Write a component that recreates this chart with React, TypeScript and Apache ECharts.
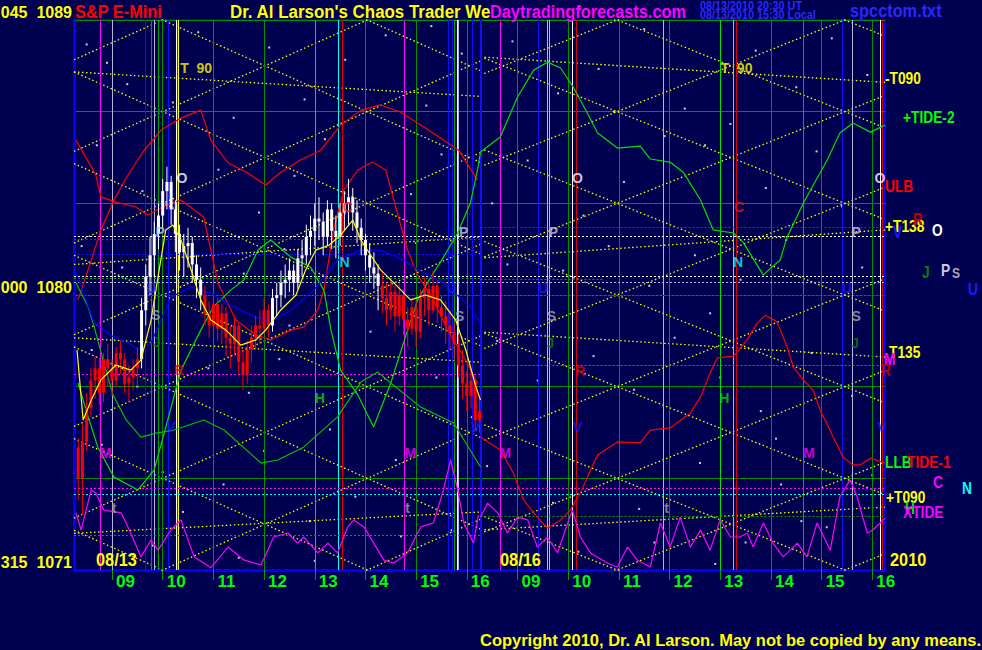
import React, { useEffect, useRef } from 'react';
import * as echarts from 'echarts';

// x unit: hours after 09:00 of 08/13 (second session shifted by 8 hours, sessions 08:15-16:15)
const X_MIN = -0.75;
const X_MAX = 15.25;
const HOUR_TICKS = [0, 1, 2, 3, 4, 5, 6, 7, 8, 9, 10, 11, 12, 13, 14, 15];
const HOUR_LABELS = ['09', '10', '11', '12', '13', '14', '15', '16', '09', '10', '11', '12', '13', '14', '15', '16'];
const Y_LABELS: Record<number, string> = { 1071: '315  1071', 1080: '000  1080', 1089: '045  1089' };

// 5-minute bars of 08/13, from 08:20: [open, close, low, high, colour flag]
const BAR_START = -0.667;
const candles: [number, number, number, number, string][] = [
  [1075.0, 1074.0, 1073.3, 1075.3, 'r'], [1074.0, 1075.2, 1072.8, 1075.8, 'r'], [1075.2, 1076.3, 1074.9, 1076.8, 'r'],
  [1076.3, 1077.2, 1076.0, 1077.6, 'r'], [1077.2, 1077.6, 1076.6, 1078.0, 'r'], [1077.6, 1076.8, 1076.4, 1077.9, 'r'],
  [1076.8, 1077.9, 1076.5, 1078.1, 'r'], [1077.9, 1077.6, 1077.0, 1078.4, 'r'], [1077.6, 1077.2, 1076.7, 1077.9, 'r'],
  [1077.2, 1078.1, 1077.0, 1078.3, 'r'], [1078.1, 1077.9, 1077.4, 1078.5, 'r'], [1077.9, 1077.1, 1076.8, 1078.1, 'r'],
  [1077.1, 1077.3, 1076.5, 1077.7, 'r'], [1077.3, 1077.6, 1076.9, 1077.9, 'r'], [1077.6, 1077.9, 1077.0, 1078.3, 'r'],
  [1077.9, 1079.5, 1077.6, 1079.9, 'w'], [1079.5, 1080.6, 1079.0, 1081.0, 'w'], [1080.6, 1081.3, 1080.0, 1081.9, 'w'],
  [1081.3, 1082.0, 1080.6, 1082.4, 'w'], [1082.0, 1082.6, 1081.5, 1083.0, 'w'], [1082.6, 1083.4, 1082.2, 1083.8, 'w'],
  [1083.4, 1083.7, 1082.8, 1084.2, 'w'], [1083.7, 1082.8, 1082.3, 1083.9, 'w'], [1082.8, 1082.0, 1081.4, 1083.1, 'w'],
  [1082.0, 1081.4, 1080.8, 1082.3, 'w'], [1081.4, 1081.6, 1080.6, 1082.0, 'w'], [1081.6, 1081.7, 1080.9, 1082.2, 'w'],
  [1081.7, 1081.0, 1080.4, 1081.9, 'w'], [1081.0, 1080.5, 1079.9, 1081.3, 'w'], [1080.5, 1080.0, 1079.5, 1080.9, 'w'],
  [1080.0, 1079.4, 1079.0, 1080.3, 'r'], [1079.4, 1079.0, 1078.6, 1079.8, 'r'], [1079.0, 1079.7, 1078.7, 1080.0, 'r'],
  [1079.7, 1078.9, 1078.5, 1079.9, 'r'], [1078.9, 1079.4, 1078.4, 1079.7, 'r'], [1079.4, 1078.6, 1078.0, 1079.6, 'r'],
  [1078.6, 1078.4, 1077.6, 1079.0, 'r'], [1078.4, 1079.0, 1078.0, 1079.3, 'r'], [1079.0, 1077.8, 1077.4, 1079.1, 'r'],
  [1077.8, 1077.4, 1076.9, 1078.2, 'r'], [1077.4, 1078.2, 1077.1, 1078.5, 'r'], [1078.2, 1078.6, 1077.8, 1079.0, 'r'],
  [1078.6, 1079.0, 1078.2, 1079.3, 'r'], [1079.0, 1078.9, 1078.4, 1079.5, 'r'], [1078.9, 1079.5, 1078.7, 1079.9, 'r'],
  [1079.5, 1079.0, 1078.6, 1079.7, 'r'], [1079.0, 1079.9, 1078.8, 1080.2, 'w'], [1079.9, 1080.0, 1079.3, 1080.4, 'w'],
  [1080.0, 1080.4, 1079.6, 1080.8, 'w'], [1080.4, 1080.5, 1079.9, 1081.0, 'w'], [1080.5, 1080.8, 1080.1, 1081.2, 'w'],
  [1080.8, 1080.4, 1080.0, 1081.0, 'w'], [1080.4, 1081.2, 1080.2, 1081.5, 'w'], [1081.2, 1081.3, 1080.6, 1081.8, 'w'],
  [1081.3, 1081.9, 1081.0, 1082.3, 'w'], [1081.9, 1082.1, 1081.3, 1082.6, 'w'], [1082.1, 1082.5, 1081.6, 1083.0, 'w'],
  [1082.5, 1082.4, 1081.8, 1083.2, 'w'], [1082.4, 1081.9, 1081.3, 1082.7, 'w'], [1081.9, 1082.8, 1081.6, 1083.1, 'w'],
  [1082.8, 1082.1, 1081.5, 1083.0, 'w'], [1082.1, 1081.9, 1081.2, 1082.6, 'w'], [1081.9, 1082.7, 1081.6, 1083.0, 'w'],
  [1082.7, 1083.0, 1082.1, 1083.4, 'w'], [1083.0, 1083.2, 1082.3, 1083.8, 'w'], [1083.2, 1082.7, 1082.1, 1083.5, 'w'],
  [1082.7, 1082.2, 1081.7, 1083.1, 'w'], [1082.2, 1081.8, 1081.3, 1082.5, 'w'], [1081.8, 1081.3, 1080.8, 1082.0, 'w'],
  [1081.3, 1080.9, 1080.4, 1081.7, 'w'], [1080.9, 1080.7, 1080.2, 1081.4, 'w'], [1080.7, 1080.3, 1079.5, 1081.0, 'w'],
  [1080.3, 1079.9, 1079.4, 1080.8, 'r'], [1079.9, 1079.5, 1079.0, 1080.4, 'r'], [1079.5, 1080.1, 1079.2, 1080.5, 'r'],
  [1080.1, 1079.3, 1078.8, 1080.3, 'r'], [1079.3, 1080.0, 1079.0, 1080.4, 'r'], [1080.0, 1079.2, 1078.7, 1080.2, 'r'],
  [1079.2, 1078.9, 1078.3, 1079.6, 'r'], [1078.9, 1079.6, 1078.7, 1079.9, 'r'], [1079.6, 1078.8, 1078.3, 1079.8, 'r'],
  [1078.8, 1079.9, 1078.6, 1080.2, 'r'], [1079.9, 1080.2, 1079.3, 1080.6, 'r'], [1080.2, 1079.5, 1079.0, 1080.4, 'r'],
  [1079.5, 1080.3, 1079.4, 1080.8, 'r'], [1080.3, 1079.6, 1079.1, 1080.5, 'r'], [1079.6, 1079.3, 1078.8, 1080.0, 'r'],
  [1079.3, 1079.0, 1078.4, 1079.8, 'r'], [1079.0, 1078.8, 1078.2, 1079.5, 'r'], [1078.8, 1078.4, 1077.9, 1079.1, 'r'],
  [1078.4, 1077.7, 1077.3, 1078.7, 'r'], [1077.7, 1077.1, 1076.6, 1078.2, 'r'], [1077.1, 1076.7, 1076.2, 1077.5, 'r'],
  [1076.7, 1077.2, 1076.3, 1077.6, 'r'], [1077.2, 1075.9, 1075.6, 1076.8, 'r'], [1075.9, 1076.2, 1075.5, 1076.6, 'r'],
];

// smoothed price (yellow), 08/13
const priceAvg: [number, number][] = [
  [-0.69, 1078.2], [-0.57, 1075.91], [-0.41, 1076.56], [-0.22, 1077.22], [0.08, 1077.71], [0.37, 1077.54],
  [0.57, 1077.87], [0.77, 1079.18], [0.93, 1080.82], [1.06, 1082.13], [1.2, 1082.29], [1.36, 1081.8],
  [1.56, 1080.82], [1.75, 1079.84], [1.95, 1079.18], [2.25, 1078.85], [2.54, 1078.36], [2.84, 1078.53],
  [3.03, 1078.85], [3.33, 1079.51], [3.63, 1080.0], [3.82, 1080.82], [4.02, 1081.47], [4.28, 1081.63],
  [4.51, 1081.96], [4.75, 1082.45], [4.91, 1081.8], [5.1, 1081.31], [5.3, 1080.82], [5.6, 1080.33],
  [5.89, 1079.84], [6.18, 1080.0], [6.48, 1079.84], [6.78, 1079.18], [6.98, 1078.2], [7.17, 1077.05], [7.27, 1076.56],
];

// upper band (red) 08/13
const ulb: [number, number][] = [
  [-0.67, 1079.84], [-0.41, 1081.14], [-0.22, 1082.13], [0.04, 1083.11], [0.28, 1083.83], [0.61, 1084.68],
  [0.97, 1085.4], [1.36, 1085.79], [1.75, 1086.05], [1.95, 1085.07], [2.29, 1084.32], [2.68, 1083.99],
  [3.03, 1083.6], [3.33, 1084.02], [3.72, 1084.42], [4.12, 1084.74], [4.51, 1085.56], [4.91, 1086.05],
  [5.3, 1086.22], [5.69, 1085.99], [6.09, 1085.56], [6.48, 1085.14], [6.84, 1084.74], [7.21, 1083.76],
];
// lower band (green) 08/13
const llb: [number, number][] = [
  [-0.71, 1080.39], [-0.47, 1079.61], [-0.35, 1078.95], [-0.16, 1077.77], [0.02, 1076.73], [0.28, 1075.91],
  [0.57, 1075.35], [0.87, 1075.48], [1.22, 1075.58], [1.81, 1075.91], [2.21, 1075.58], [2.94, 1074.5],
  [3.27, 1074.6], [3.78, 1075.02], [4.45, 1076.01], [4.91, 1077.15], [5.24, 1077.48], [5.5, 1077.12],
  [6.09, 1076.33], [6.74, 1075.81], [7.27, 1074.37],
];
// blue average 08/13
const blueLine: [number, number][] = [
  [-0.71, 1080.75], [-0.35, 1079.08], [0.04, 1078.62], [0.32, 1078.43], [0.51, 1078.2], [0.77, 1078.43],
  [1.16, 1079.93], [1.56, 1080.26], [1.95, 1080.06], [2.34, 1079.67], [2.74, 1079.34], [3.13, 1079.12],
  [3.53, 1079.51], [3.98, 1080.16], [4.45, 1081.14], [4.91, 1081.47], [5.3, 1081.47], [5.75, 1081.14],
  [6.15, 1080.72], [6.54, 1080.39], [7.07, 1079.61], [7.27, 1079.08],
];
// TIDE-1 (red)
const tide1Day1: [number, number][] = [
  [-0.71, 1085.07], [-0.32, 1083.93], [-0.22, 1083.21], [0.08, 1083.04], [0.47, 1082.88], [0.71, 1082.62],
  [1.06, 1082.94], [1.36, 1083.11], [1.81, 1082.55], [2.09, 1080.39], [2.44, 1079.18], [2.84, 1078.69],
  [3.13, 1078.53], [3.53, 1078.85], [3.78, 1078.95], [4.06, 1079.51], [4.18, 1080.16], [4.37, 1082.13],
  [4.57, 1083.43], [4.85, 1084.09], [5.14, 1084.35], [5.4, 1084.09], [5.56, 1083.11], [5.83, 1081.47],
  [6.03, 1080.65], [6.34, 1079.84], [6.62, 1078.85], [6.94, 1077.97], [7.21, 1077.12],
];
const tide1Day2: [number, number][] = [
  [7.27, 1075.35], [7.66, 1074.93], [7.92, 1074.17], [8.12, 1073.29], [8.39, 1072.73], [8.59, 1072.37],
  [8.85, 1072.64], [9.04, 1072.96], [9.24, 1073.52], [9.44, 1074.27], [9.58, 1074.76], [9.97, 1075.19],
  [10.42, 1075.16], [10.62, 1075.58], [11.01, 1075.65], [11.41, 1076.14], [11.61, 1076.66], [11.8, 1077.45],
  [11.94, 1077.94], [12.26, 1078.0], [12.53, 1078.53], [12.73, 1079.08], [12.89, 1079.34], [13.12, 1079.12],
  [13.32, 1078.3], [13.44, 1077.64], [13.64, 1077.22], [13.83, 1076.89], [13.97, 1076.24], [14.23, 1075.35],
  [14.42, 1074.7], [14.62, 1074.44], [14.76, 1074.44], [14.96, 1074.66], [15.25, 1074.5],
];
// TIDE-2 (green)
const tide2: [number, number][] = [
  [-0.67, 1077.12], [-0.47, 1076.01], [-0.28, 1075.02], [0.04, 1074.04], [0.51, 1073.62], [0.83, 1074.27],
  [1.1, 1075.91], [1.36, 1077.54], [1.75, 1078.85], [2.0, 1079.61], [2.34, 1080.16], [2.6, 1080.49],
  [2.88, 1081.47], [3.13, 1081.8], [3.53, 1081.24], [3.92, 1080.91], [4.18, 1080.16], [4.32, 1078.85],
  [4.51, 1077.54], [4.85, 1076.73], [5.16, 1075.68], [5.5, 1077.12], [5.75, 1078.43], [6.03, 1079.84],
  [6.29, 1080.59], [6.54, 1081.24], [6.82, 1082.03], [7.07, 1083.01], [7.21, 1084.09], [7.27, 1084.68],
  [7.66, 1085.17], [8.0, 1086.48], [8.32, 1087.36], [8.59, 1087.62], [8.85, 1087.43], [9.1, 1086.8],
  [9.38, 1085.95], [9.58, 1085.3], [9.97, 1084.81], [10.42, 1084.87], [10.62, 1084.45], [11.01, 1084.35],
  [11.27, 1084.02], [11.61, 1083.11], [11.86, 1082.13], [12.26, 1082.03], [12.45, 1081.73], [12.85, 1080.65],
  [12.99, 1080.88], [13.18, 1081.14], [13.32, 1081.9], [13.64, 1083.01], [14.11, 1084.42], [14.36, 1085.3],
  [14.62, 1085.63], [14.96, 1085.33], [15.25, 1085.56],
];
// XTIDE (magenta)
const xtideDay1: [number, number][] = [
  [-0.71, 1072.87], [-0.61, 1072.31], [-0.41, 1073.62], [-0.32, 1073.52], [-0.16, 1072.96], [0.18, 1072.87],
  [0.37, 1072.21], [0.57, 1071.43], [0.77, 1071.98], [0.91, 1071.65], [1.16, 1072.31], [1.36, 1072.64],
  [1.62, 1071.43], [1.95, 1071.07], [2.29, 1071.75], [2.6, 1071.33], [2.94, 1071.16], [3.19, 1072.08],
  [3.47, 1072.21], [3.66, 1071.88], [3.78, 1072.08], [4.06, 1071.56], [4.26, 1071.88], [4.45, 1071.56],
  [4.65, 1072.41], [4.77, 1072.64], [4.97, 1072.41], [5.36, 1071.33], [5.56, 1071.23], [5.83, 1071.56],
  [6.09, 1072.41], [6.34, 1072.54], [6.54, 1073.62], [6.68, 1074.6], [6.82, 1073.62], [6.94, 1072.54],
  [7.13, 1071.88], [7.23, 1072.8],
];
const xtideDay2: [number, number][] = [
  [7.27, 1072.73], [7.41, 1073.19], [7.61, 1072.87], [7.8, 1072.21], [8.0, 1072.73], [8.2, 1072.64],
  [8.39, 1071.75], [8.59, 1072.08], [8.79, 1071.56], [8.99, 1072.54], [9.08, 1072.96], [9.24, 1072.08],
  [9.44, 1071.56], [9.77, 1071.23], [9.97, 1071.1], [10.17, 1071.75], [10.36, 1071.33], [10.62, 1071.1],
  [10.82, 1072.54], [11.01, 1071.75], [11.21, 1072.73], [11.41, 1071.75], [11.61, 1072.31], [11.8, 1071.65],
  [12.0, 1072.64], [12.2, 1072.08], [12.39, 1072.08], [12.53, 1072.21], [12.65, 1071.75], [12.85, 1072.54],
  [13.04, 1071.88], [13.24, 1071.43], [13.52, 1071.88], [13.71, 1071.43], [13.91, 1072.54], [14.17, 1071.65],
  [14.36, 1073.39], [14.56, 1073.95], [14.7, 1073.39], [14.9, 1072.21], [15.01, 1072.31], [15.25, 1072.7],
];

// yellow time-price lines: [x1, y1, x2, y2]
const latticeLines: [number, number, number, number][] = [
  [-0.75, 1093.3, 7.27, 1087.34], [-0.75, 1090.3, 7.27, 1084.34], [-0.75, 1087.3, 7.27, 1081.34],
  [-0.75, 1084.3, 7.27, 1078.34], [-0.75, 1081.3, 7.27, 1075.34], [-0.75, 1078.3, 7.27, 1072.34],
  [-0.75, 1075.3, 7.27, 1069.34], [-0.75, 1072.3, 7.27, 1066.34],
  [-0.75, 1066.7, 7.27, 1072.66], [-0.75, 1069.7, 7.27, 1075.66], [-0.75, 1072.7, 7.27, 1078.66],
  [-0.75, 1075.7, 7.27, 1081.66], [-0.75, 1078.7, 7.27, 1084.66], [-0.75, 1081.7, 7.27, 1087.66],
  [-0.75, 1084.7, 7.27, 1090.66], [-0.75, 1087.7, 7.27, 1093.66],
  [7.27, 1093.8, 15.25, 1088.47], [7.27, 1090.8, 15.25, 1085.47], [7.27, 1087.8, 15.25, 1082.47],
  [7.27, 1084.8, 15.25, 1079.47], [7.27, 1081.8, 15.25, 1076.47], [7.27, 1078.8, 15.25, 1073.47],
  [7.27, 1075.8, 15.25, 1070.47], [7.27, 1072.8, 15.25, 1067.47],
  [7.27, 1066.2, 15.25, 1071.53], [7.27, 1069.2, 15.25, 1074.53], [7.27, 1072.2, 15.25, 1077.53],
  [7.27, 1075.2, 15.25, 1080.53], [7.27, 1078.2, 15.25, 1083.53], [7.27, 1081.2, 15.25, 1086.53],
  [7.27, 1084.2, 15.25, 1089.53], [7.27, 1087.2, 15.25, 1092.53],
];
const tLines: [number, number, number, number][] = [
  [-0.75, 1087.3, 7.27, 1086.5], [-0.75, 1081.0, 7.27, 1081.9], [-0.75, 1078.6, 7.27, 1077.8], [-0.75, 1072.2, 7.27, 1072.9],
  [7.27, 1087.79, 15.25, 1086.96], [7.27, 1081.21, 15.25, 1082.13], [7.27, 1078.79, 15.25, 1077.97], [7.27, 1072.31, 15.25, 1073.06],
];

// planetary time lines: [x, kind]
const timeLines: [number, string][] = [
  [-0.24, 'magenta'], [0.0, 'lavender'], [0.65, 'blue'], [0.77, 'green'], [0.83, 'lavender'], [0.91, 'green'],
  [1.1, 'blue'], [1.26, 'white'], [1.28, 'red'], [1.31, 'yellow'], [4.47, 'cyan'], [4.55, 'red'], [5.77, 'magenta'],
  [6.64, 'blue'], [6.72, 'blue'], [6.76, 'green'], [6.82, 'white'], [6.84, 'lavender'], [7.11, 'blue'], [7.27, 'blue'],
  [7.65, 'magenta'], [8.41, 'blue'], [8.59, 'lavender'], [8.63, 'lavender'], [9.08, 'white'], [9.16, 'red'],
  [10.88, 'lavender'], [12.26, 'cyan'], [12.32, 'red'], [13.64, 'magenta'], [14.4, 'blue'], [14.6, 'lavender'],
  [15.15, 'white'], [15.19, 'red'],
];
// horizontal price levels: [x1, x2, price, kind]
const priceLevels: [number, number, number, string][] = [
  [-0.75, 7.27, 1081.83, 'red'], [7.27, 15.25, 1082.23, 'red'], [-0.75, 15.25, 1081.93, 'white'],
  [-0.75, 7.27, 1081.34, 'blue'], [-0.75, 15.25, 1080.62, 'white'], [-0.75, 15.25, 1080.43, 'lavender'],
  [-0.75, 7.27, 1080.56, 'green'], [7.27, 9.7, 1080.52, 'green'], [-0.75, 15.25, 1080.0, 'blue'],
  [-0.75, 7.27, 1077.41, 'magenta'], [7.27, 15.25, 1077.71, 'magenta'], [-0.75, 15.25, 1073.68, 'magenta'],
  [-0.75, 15.25, 1073.49, 'cyan'], [-0.75, 7.27, 1072.15, 'green'], [7.27, 15.25, 1072.77, 'green'],
];

// planet letters on the chart: [x, price, letter]
const letters: [number, number, string][] = [
  [1.66, 1087.43, 'T  90'], [1.38, 1083.83, 'O'], [0.95, 1082.06, 'P'], [0.86, 1079.34, 'S'], [0.88, 1078.46, 'J'],
  [1.32, 1077.54, 'R'], [-0.12, 1074.83, 'M'], [0.04, 1073.03, 't'], [1.16, 1075.68, 'V'], [0.77, 1080.23, 'U'],
  [4.65, 1082.88, 'C'], [4.59, 1081.08, 'N'], [4.1, 1076.63, 'H'], [5.89, 1074.83, 'M'], [5.83, 1073.03, 't'],
  [6.94, 1082.06, 'P'], [6.86, 1079.31, 'S'], [7.17, 1075.68, 'V'], [6.7, 1080.23, 'U'],
  [12.32, 1087.43, 'T  90'], [9.18, 1083.83, 'O'], [8.71, 1082.06, 'P'], [8.51, 1080.23, 'U'], [8.67, 1079.31, 'S'],
  [8.65, 1078.43, 'J'], [9.24, 1077.5, 'R'], [9.18, 1075.68, 'V'], [7.76, 1074.83, 'M'], [10.94, 1073.03, 't'],
  [12.37, 1082.88, 'C'], [12.35, 1081.08, 'N'], [12.08, 1076.63, 'H'], [13.75, 1074.83, 'M'], [14.5, 1080.23, 'U'],
  [14.68, 1079.31, 'S'], [14.66, 1078.43, 'J'], [14.68, 1082.06, 'P'], [15.15, 1083.83, 'O'], [15.19, 1075.68, 'V'],
];

// background star dots: [x, price]
const stars: [number, number][] = [
  [-0.5, 1088.2], [0.3, 1086.9], [1.7, 1088.6], [2.4, 1085.8], [3.1, 1088.1], [3.8, 1086.4], [4.6, 1087.7], [5.4, 1088.5],
  [6.2, 1086.2], [6.9, 1087.9], [7.9, 1088.3], [8.8, 1086.6], [9.6, 1087.4], [10.5, 1088.7], [11.3, 1086.1], [12.7, 1088.0],
  [13.5, 1086.8], [14.2, 1088.4], [14.9, 1087.2], [-0.3, 1084.9], [0.6, 1083.4], [2.1, 1084.1], [2.9, 1082.7], [3.6, 1083.9],
  [5.9, 1083.3], [6.5, 1084.6], [7.5, 1083.0], [8.2, 1084.4], [9.3, 1082.6], [10.1, 1083.7], [10.9, 1085.2], [11.7, 1084.9],
  [12.9, 1083.5], [13.9, 1084.7], [14.4, 1082.9], [-0.6, 1081.6], [0.2, 1080.9], [1.5, 1081.2], [2.6, 1080.7], [3.4, 1081.5],
  [5.2, 1080.6], [6.0, 1081.7], [7.8, 1081.0], [8.9, 1080.8], [9.8, 1081.6], [10.6, 1080.3], [11.5, 1081.3], [12.4, 1080.5],
  [13.3, 1081.8], [14.8, 1080.9], [-0.4, 1078.2], [0.5, 1077.0], [1.9, 1077.6], [2.7, 1076.8], [3.3, 1077.9], [4.3, 1075.6],
  [5.1, 1078.8], [6.4, 1077.3], [7.6, 1078.5], [8.4, 1077.2], [9.5, 1078.0], [10.3, 1076.9], [11.1, 1078.6], [12.0, 1077.3],
  [12.8, 1076.2], [13.8, 1078.1], [14.6, 1076.7], [-0.2, 1075.1], [1.0, 1074.2], [2.2, 1073.8], [3.0, 1074.9], [3.9, 1072.6],
  [4.8, 1073.4], [5.6, 1074.6], [6.7, 1072.3], [7.4, 1074.4], [8.7, 1073.2], [9.2, 1071.6], [10.4, 1073.0], [11.6, 1074.5],
  [12.5, 1071.9], [13.2, 1073.8], [14.1, 1072.4], [15.0, 1074.1], [0.8, 1071.8], [1.4, 1072.9], [2.5, 1071.4], [4.0, 1071.3],
  [5.7, 1072.1], [8.1, 1071.5], [10.7, 1071.9], [11.9, 1071.2], [13.6, 1072.6], [1.2, 1086.3], [4.2, 1085.1], [9.9, 1086.0],
  [12.2, 1085.6], [6.3, 1088.8], [-0.1, 1087.6], [3.5, 1079.0], [11.8, 1079.4], [7.1, 1076.0], [13.1, 1075.3],
];

const COLORS: Record<string, string> = {
  magenta: '#ff00ff', lavender: '#b4b4dc', blue: '#1010ff', green: '#00a000', white: '#ffffff',
  red: '#e00000', yellow: '#ffff00', cyan: '#00ffff',
};
const LETTER_COLORS: Record<string, string> = {
  'T  90': '#ffff00', O: '#ffffff', P: '#c8c8e0', S: '#a8a8b8', J: '#008800', R: '#e00000', M: '#ff00ff',
  t: '#a0a0b0', V: '#1a1aff', U: '#1a1aff', C: '#ff1010', N: '#00ffff', H: '#00e000',
};

const SANS = "'Liberation Sans', Arial, sans-serif";
const BG = '#000050';

function txt(x: number, y: number, text: string, fill: string, fontSize: number, sx = 0.86) {
  return {
    type: 'text', x, y, scaleX: sx, silent: true, z: 100,
    style: { text, fill, fontSize, fontFamily: SANS, fontWeight: 'bold', verticalAlign: 'middle' },
  };
}

function lineSeries(name: string, data: [number, number][], color: string, width = 1, z = 5) {
  return {
    name, type: 'line', data, symbol: 'none', smooth: false, z, clip: true, silent: true,
    lineStyle: { color, width }, emphasis: { disabled: true },
  };
}

export default function App() {
  const ref = useRef<HTMLDivElement>(null);
  useEffect(() => {
    document.body.style.margin = '0';
    document.body.style.background = BG;
    const chart = echarts.init(ref.current!, null, { renderer: 'svg' });

    const vMarks = [
      ...HOUR_TICKS.map((h) => ({
        xAxis: h,
        lineStyle: { color: h === 4 || h === 12 ? '#00e000' : '#009000', width: 1, type: 'solid' },
      })),
      ...timeLines.map(([x, k]) => ({
        xAxis: x,
        lineStyle: { color: COLORS[k], width: x === 7.27 ? 2 : 1, type: 'solid' },
      })),
    ];
    const hMarks = priceLevels.map(([x1, x2, p, k]) => [
      { coord: [x1, p], lineStyle: { color: COLORS[k], width: 1, type: [2, 2] } },
      { coord: [x2, p] },
    ]);

    const yellowSeries = [...latticeLines, ...tLines].map((l, i) =>
      ({
        name: 'yl' + i, type: 'line', data: [[l[0], l[1]], [l[2], l[3]]], symbol: 'none', z: 3, clip: true, silent: true,
        lineStyle: { color: '#ffff00', width: 1.3, type: [1.5, 2.5] },
      }));

    const candleData = candles.map((c, i) => ({
      value: [BAR_START + i / 12, c[0], c[1], c[2], c[3]],
      itemStyle: { color: c[4] === 'w' ? '#ffffff' : '#ff0000' },
    }));

    const option: any = {
      animation: false,
      backgroundColor: BG,
      grid: {
        left: 74, right: 97, top: 20, bottom: 80, show: true, borderColor: '#0000ff', borderWidth: 2,
        backgroundColor: 'transparent', containLabel: false, outerBoundsMode: 'none',
      },
      xAxis: {
        type: 'value', min: X_MIN, max: X_MAX,
        axisLine: { show: true, onZero: false, lineStyle: { color: '#0000ff', width: 3 } },
        axisTick: { show: true, customValues: HOUR_TICKS, length: 10, inside: false, lineStyle: { color: '#00a000', width: 1 } },
        axisLabel: {
          show: true, customValues: HOUR_TICKS, formatter: (v: number) => HOUR_LABELS[Math.round(v)] ?? '',
          color: '#00ff00', fontSize: 17, fontWeight: 'bold', fontFamily: SANS, align: 'left', padding: [0, 0, 0, 4], margin: 3,
        },
        splitLine: { show: false },
      },
      yAxis: {
        type: 'value', min: 1071, max: 1089, interval: 3,
        axisLine: { show: true, onZero: false, lineStyle: { color: '#0000ff', width: 3 } },
        axisTick: { show: false },
        axisLabel: {
          formatter: (v: number) => Y_LABELS[Math.round(v)] ?? '',
          color: '#ffff00', fontSize: 16, fontFamily: SANS, fontWeight: 'bold', margin: 2, verticalAlign: 'bottom',
        },
        splitLine: { show: true, lineStyle: { color: '#009000', width: 1 } },
      },
      series: [
        {
          name: 'stars', type: 'scatter', data: stars, symbol: 'rect', symbolSize: 2, z: 1, silent: true,
          itemStyle: { color: '#ffffff' },
        },
        {
          name: 'levels', type: 'scatter', data: [[X_MIN, 1071]], symbolSize: 0, z: 2, silent: true,
          markLine: { silent: true, symbol: ['none', 'none'], label: { show: false }, animation: false, data: [...vMarks, ...hMarks] },
        },
        ...yellowSeries,
        lineSeries('XTIDE', xtideDay1, '#ff00ff', 1.2, 6),
        lineSeries('XTIDE2', xtideDay2, '#ff00ff', 1.2, 6),
        lineSeries('TIDE-1', tide1Day1, '#ff0000', 1.2, 6),
        lineSeries('TIDE-1b', tide1Day2, '#ff0000', 1.2, 6),
        lineSeries('ULB', ulb, '#ff0000', 1.2, 6),
        lineSeries('TIDE-2', tide2, '#00e000', 1.2, 6),
        lineSeries('LLB', llb, '#00c000', 1.2, 6),
        lineSeries('avg', blueLine, '#0000ff', 1.2, 6),
        {
          name: 'bars', type: 'custom', z: 8, clip: true, silent: true,
          data: candleData,
          encode: { x: 0, y: [1, 2, 3, 4] },
          renderItem: (params: any, api: any) => {
            const x = api.value(0);
            const lo = api.coord([x, api.value(3)]);
            const hi = api.coord([x, api.value(4)]);
            const o = api.coord([x, api.value(1)]);
            const c = api.coord([x, api.value(2)]);
            const color = api.visual('color');
            const top = Math.min(o[1], c[1]);
            const h = Math.max(2, Math.abs(o[1] - c[1]));
            return {
              type: 'group',
              children: [
                { type: 'line', shape: { x1: lo[0], y1: lo[1], x2: hi[0], y2: hi[1] }, style: { stroke: color, lineWidth: 1 } },
                { type: 'rect', shape: { x: o[0] - 1.5, y: top, width: 3, height: h }, style: { fill: color } },
              ],
            };
          },
        },
        lineSeries('price avg', priceAvg, '#ffff00', 1.2, 9),
        {
          name: 'letters', type: 'scatter', z: 10, silent: true, symbolSize: 0,
          data: letters.map(([x, y, s]) => ({
            value: [x, y], name: s,
            label: { show: true, formatter: s, color: LETTER_COLORS[s], fontSize: 14, fontWeight: 'bold', fontFamily: SANS, position: 'inside' },
          })),
        },
      ],
      graphic: [
        txt(75, 12, 'S&P E-Mini', '#ff0000', 19, 0.86),
        txt(230, 12, "Dr. Al Larson's Chaos Trader We", '#ffff00', 19, 0.89),
        txt(490, 12, 'Daytradingforecasts.com', '#ff00ff', 19, 0.86),
        txt(700, 6, '08/13/2010 20:30 UT', '#2828ff', 12, 0.9),
        txt(700, 15, '08/13/2010 15:30 Local', '#2828ff', 12, 0.9),
        txt(850, 11, 'spcctom.txt', '#2828ff', 19, 0.86),
        txt(96, 560, '08/13', '#ffff00', 19),
        txt(500, 560, '08/16', '#ffff00', 19),
        txt(890, 560, '2010', '#ffff00', 19),
        txt(480, 640, 'Copyright 2010, Dr. Al Larson. May not be copied by any means.', '#ffff00', 16, 1.03),
        txt(885, 78, '-T090', '#ffff00', 16),
        txt(903, 117, '+TIDE-2', '#00ff00', 16),
        txt(885, 186, 'ULB', '#ff0000', 16),
        txt(885, 226, '+T138', '#ffff00', 16),
        txt(913, 219, 'R', '#c00000', 16),
        txt(893, 232, 'V', '#1a1aff', 16),
        txt(932, 230, 'O', '#ffffff', 16),
        txt(922, 272, 'J', '#008800', 16),
        txt(941, 270, 'P', '#c8c8e0', 16),
        txt(952, 273, 'S', '#a8a8b8', 14),
        txt(968, 289, 'U', '#1a1aff', 16),
        txt(889, 352, 'T135', '#ffff00', 16),
        txt(884, 359, 'M', '#ff00ff', 16),
        txt(881, 370, 'R', '#c00000', 16),
        txt(885, 462, 'LLB', '#00ff00', 16),
        txt(907, 462, 'TIDE-1', '#ff0000', 16),
        txt(933, 482, 'C', '#ff00ff', 16),
        txt(962, 488, 'N', '#00ffff', 16),
        txt(886, 497, '+T090', '#ffff00', 16),
        txt(905, 508, 'H', '#00e000', 16),
        txt(903, 512, 'XTIDE', '#ff00ff', 16),
      ],
    };
    chart.setOption(option);
    return () => chart.dispose();
  }, []);
  return <div ref={ref} style={{ position: 'absolute', left: 0, top: 0, width: 982, height: 650 }} />;
}
